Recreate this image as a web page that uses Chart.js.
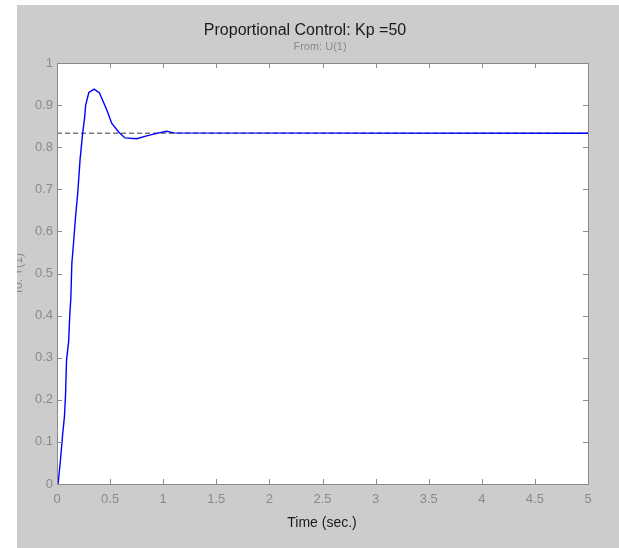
<!DOCTYPE html>
<html lang="en">
<head>
  <meta charset="UTF-8">
  <title>Proportional Control: Kp =50</title>
  <style>
    html, body { margin: 0; padding: 0; background: #ffffff; }
    #wrap { width: 619px; height: 548px; }
  </style>
</head>
<body>
  <div id="wrap"><canvas id="stepChart" width="619" height="548"></canvas></div>

  <script src="https://cdn.jsdelivr.net/npm/chart.js"></script>
  <script>
    // step response
    const timeSec = [0, 0.01, 0.03, 0.054, 0.07, 0.08, 0.09, 0.11, 0.12, 0.13, 0.14, 0.155, 0.17, 0.18,
      0.195, 0.217, 0.24, 0.26, 0.27, 0.30, 0.35, 0.40, 0.47, 0.515, 0.58, 0.64, 0.75, 0.845, 0.94, 1.03, 1.1, 5];
    const response = [0, 0, 0.05, 0.12, 0.16, 0.21, 0.295, 0.34, 0.40, 0.44, 0.525, 0.57, 0.62, 0.65,
      0.69, 0.77, 0.83, 0.87, 0.90, 0.93, 0.938, 0.929, 0.888, 0.857, 0.836, 0.822, 0.82, 0.827, 0.833, 0.838, 0.834, 0.8333];

    // steady state (dashed)
    const steadyTime = [0, 5];
    const steadyValue = [0.8333, 0.8333];

    const xTickLabels = ['0', '0.5', '1', '1.5', '2', '2.5', '3', '3.5', '4', '4.5', '5'];
    const yTickLabels = ['0', '0.1', '0.2', '0.3', '0.4', '0.5', '0.6', '0.7', '0.8', '0.9', '1'];

    const FONT = "'Liberation Sans', Arial, sans-serif";
    const GRAY = '#8a8a8a';

    function toPoints(xs, ys) {
      return xs.map((x, i) => ({ x: x, y: ys[i] }));
    }

    // background, inside ticks, box and texts
    const matlabLook = {
      id: 'matlabLook',
      beforeDraw(chart) {
        const { ctx, chartArea: a } = chart;
        ctx.save();
        ctx.fillStyle = '#ffffff';
        ctx.fillRect(0, 0, chart.width, chart.height);
        ctx.fillStyle = '#cccccc';
        ctx.fillRect(17, 5, chart.width - 17, chart.height - 5);
        ctx.fillStyle = '#ffffff';
        ctx.fillRect(a.left, a.top, a.right - a.left, a.bottom - a.top);
        ctx.restore();
      },
      afterDraw(chart) {
        const { ctx, chartArea: a } = chart;
        const xs = chart.scales.x, ys = chart.scales.y;
        ctx.save();
        ctx.strokeStyle = GRAY;
        ctx.lineWidth = 1;
        ctx.beginPath();
        xs.ticks.forEach(t => {
          const px = Math.round(xs.getPixelForValue(t.value)) + 0.5;
          ctx.moveTo(px, a.bottom); ctx.lineTo(px, a.bottom - 5);
          ctx.moveTo(px, a.top); ctx.lineTo(px, a.top + 5);
        });
        ys.ticks.forEach(t => {
          const py = Math.round(ys.getPixelForValue(t.value)) + 0.5;
          ctx.moveTo(a.left, py); ctx.lineTo(a.left + 5, py);
          ctx.moveTo(a.right, py); ctx.lineTo(a.right - 5, py);
        });
        ctx.stroke();
        ctx.strokeRect(Math.round(a.left) + 0.5, Math.round(a.top) + 0.5,
          Math.round(a.right - a.left), Math.round(a.bottom - a.top));

        ctx.textAlign = 'center';
        ctx.textBaseline = 'alphabetic';
        ctx.fillStyle = '#1a1a1a';
        ctx.font = '16px ' + FONT;
        ctx.fillText('Proportional Control: Kp =50', 305, 35);
        ctx.fillStyle = GRAY;
        ctx.font = '11px ' + FONT;
        ctx.fillText('From: U(1)', 320, 50);
        ctx.fillStyle = '#1a1a1a';
        ctx.font = '14px ' + FONT;
        ctx.fillText('Time (sec.)', 322, 527);

        // y label, cut by the figure edge
        ctx.beginPath();
        ctx.rect(17, 0, 60, chart.height);
        ctx.clip();
        ctx.translate(22, 274);
        ctx.rotate(-Math.PI / 2);
        ctx.fillStyle = GRAY;
        ctx.font = '12px ' + FONT;
        ctx.fillText('To: Y(1)', 0, 0);
        ctx.restore();
      }
    };

    new Chart(document.getElementById('stepChart'), {
      type: 'line',
      data: {
        datasets: [
          {
            label: 'Y(1)',
            data: toPoints(timeSec, response),
            borderColor: '#0000ff',
            borderWidth: 1.4,
            pointRadius: 0,
            tension: 0,
            order: 1
          },
          {
            label: 'steady',
            data: toPoints(steadyTime, steadyValue),
            borderColor: '#7a7a7a',
            borderWidth: 1.6,
            borderDash: [5, 3],
            pointRadius: 0,
            order: 2
          }
        ]
      },
      options: {
        responsive: false,
        animation: false,
        devicePixelRatio: 1,
        layout: { padding: { left: 0, right: 31, top: 63, bottom: 0 } },
        plugins: {
          legend: { display: false },
          title: { display: false },
          tooltip: { enabled: false }
        },
        scales: {
          x: {
            type: 'linear',
            min: 0,
            max: 5,
            afterFit(scale) { scale.height = 64; },
            grid: { display: false, drawTicks: false },
            border: { display: false },
            ticks: {
              stepSize: 0.5,
              autoSkip: false,
              maxRotation: 0,
              padding: 8,
              color: GRAY,
              font: { family: FONT, size: 13 },
              callback: (v, i) => xTickLabels[i]
            }
          },
          y: {
            min: 0,
            max: 1,
            afterFit(scale) { scale.width = 57; },
            grid: { display: false, drawTicks: false },
            border: { display: false },
            ticks: {
              stepSize: 0.1,
              autoSkip: false,
              padding: 4,
              color: GRAY,
              font: { family: FONT, size: 13 },
              callback: (v, i) => yTickLabels[i]
            }
          }
        }
      },
      plugins: [matlabLook]
    });
  </script>
</body>
</html>
